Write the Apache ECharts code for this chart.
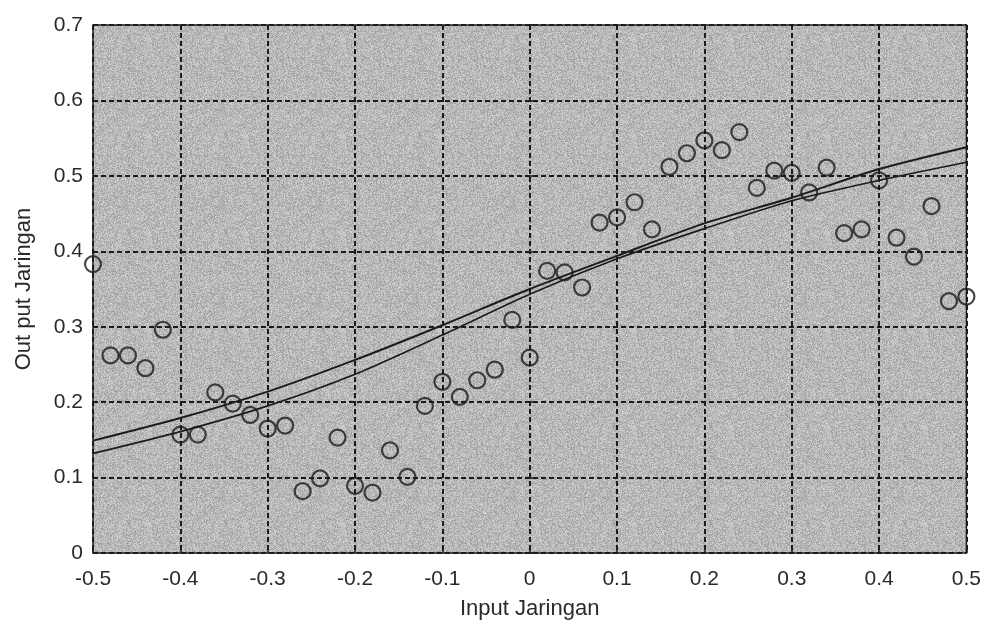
<!DOCTYPE html>
<html>
<head>
<meta charset="utf-8">
<script src="https://cdn.jsdelivr.net/npm/echarts@6/dist/echarts.min.js"></script>
<style>
  html, body { margin: 0; padding: 0; background: #ffffff; }
  #chart { width: 984px; height: 625px; }
</style>
</head>
<body>
<div id="chart"></div>
<script>
// Network input vs. network output: sampled targets and two fitted curves
const inputX = [
  -0.50, -0.48, -0.46, -0.44, -0.42, -0.40, -0.38, -0.36, -0.34, -0.32,
  -0.30, -0.28, -0.26, -0.24, -0.22, -0.20, -0.18, -0.16, -0.14, -0.12,
  -0.10, -0.08, -0.06, -0.04, -0.02, 0.00, 0.02, 0.04, 0.06, 0.08,
  0.10, 0.12, 0.14, 0.16, 0.18, 0.20, 0.22, 0.24, 0.26, 0.28,
  0.30, 0.32, 0.34, 0.36, 0.38, 0.40, 0.42, 0.44, 0.46, 0.48, 0.50
];
const targetY = [
  0.383, 0.262, 0.262, 0.245, 0.296, 0.157, 0.157, 0.213, 0.198, 0.183,
  0.165, 0.169, 0.082, 0.099, 0.153, 0.089, 0.080, 0.136, 0.101, 0.195,
  0.227, 0.207, 0.229, 0.243, 0.309, 0.259, 0.374, 0.372, 0.352, 0.438,
  0.445, 0.465, 0.429, 0.512, 0.530, 0.547, 0.534, 0.558, 0.484, 0.507,
  0.504, 0.478, 0.511, 0.424, 0.429, 0.494, 0.418, 0.393, 0.460, 0.334, 0.340
];

const curveX = [-0.5, -0.4, -0.3, -0.2, -0.1, 0.0, 0.1, 0.2, 0.3, 0.4, 0.5];
const curveUpper = [0.149, 0.179, 0.214, 0.256, 0.302, 0.350, 0.394, 0.437, 0.471, 0.509, 0.538];
const curveLower = [0.132, 0.161, 0.195, 0.237, 0.289, 0.343, 0.390, 0.430, 0.467, 0.494, 0.518];

const xTickLabels = ['-0.5', '-0.4', '-0.3', '-0.2', '-0.1', '0', '0.1', '0.2', '0.3', '0.4', '0.5'];
const yTickLabels = ['0', '0.1', '0.2', '0.3', '0.4', '0.5', '0.6', '0.7'];

// Fine light-grey grain for the plotting area (deterministic hash noise tile)
function makeGrainTile(size) {
  const c = document.createElement('canvas');
  c.width = size; c.height = size;
  const g = c.getContext('2d');
  const img = g.createImageData(size, size);
  for (let i = 0; i < size * size; i++) {
    let h = (i * 2654435761) >>> 0;
    h ^= h >>> 13; h = Math.imul(h, 1274126177) >>> 0; h ^= h >>> 16;
    const v = 184 + (h % 28);
    img.data[i * 4] = v; img.data[i * 4 + 1] = v; img.data[i * 4 + 2] = v; img.data[i * 4 + 3] = 255;
  }
  g.putImageData(img, 0, 0);
  return c;
}

const chart = echarts.init(document.getElementById('chart'), null, { renderer: 'canvas' });
const font = 'Liberation Sans, Arial, sans-serif';
const ink = '#1c1c1c';

const gridLine = { color: ink, type: [5, 3], width: 2 };

chart.setOption({
  animation: false,
  backgroundColor: '#ffffff',
  grid: {
    left: 93, right: 17, top: 25, bottom: 65,
    show: true,
    backgroundColor: { image: makeGrainTile(97), repeat: 'repeat' },
    borderColor: ink,
    borderWidth: 1.5
  },
  xAxis: {
    type: 'value', min: -0.5, max: 0.5, interval: 0.1,
    name: 'Input Jaringan', nameLocation: 'middle', nameGap: 45,
    nameTextStyle: { fontFamily: font, fontSize: 22, color: '#2a2a2a' },
    axisLine: { show: false },
    axisTick: { show: true, inside: true, length: 8, lineStyle: { color: ink, width: 1.5 } },
    axisLabel: {
      fontFamily: font, fontSize: 21, color: '#2a2a2a', margin: 16,
      formatter: (v, i) => xTickLabels[i]
    },
    splitLine: { show: true, lineStyle: gridLine }
  },
  yAxis: {
    type: 'value', min: 0, max: 0.7, interval: 0.1,
    name: 'Out put Jaringan', nameLocation: 'middle', nameGap: 58,
    nameTextStyle: { fontFamily: font, fontSize: 22, color: '#2a2a2a' },
    axisLine: { show: false },
    axisTick: { show: true, inside: true, length: 8, lineStyle: { color: ink, width: 1.5 } },
    axisLabel: {
      fontFamily: font, fontSize: 21, color: '#2a2a2a', margin: 10,
      formatter: (v, i) => yTickLabels[i]
    },
    splitLine: { show: true, lineStyle: gridLine }
  },
  series: [
    {
      type: 'line', name: 'upper', data: curveX.map((x, i) => [x, curveUpper[i]]),
      smooth: 0.25, showSymbol: false, clip: true,
      lineStyle: { color: ink, width: 2 }, z: 3
    },
    {
      type: 'line', name: 'lower', data: curveX.map((x, i) => [x, curveLower[i]]),
      smooth: 0.25, showSymbol: false, clip: true,
      lineStyle: { color: ink, width: 1.7 }, z: 3
    },
    {
      type: 'scatter', name: 'target', data: inputX.map((x, i) => [x, targetY[i]]),
      symbol: 'circle', symbolSize: 16, clip: false,
      itemStyle: { color: 'rgba(0,0,0,0)', borderColor: ink, borderWidth: 2.2 }, z: 4
    }
  ]
});
</script>
</body>
</html>
